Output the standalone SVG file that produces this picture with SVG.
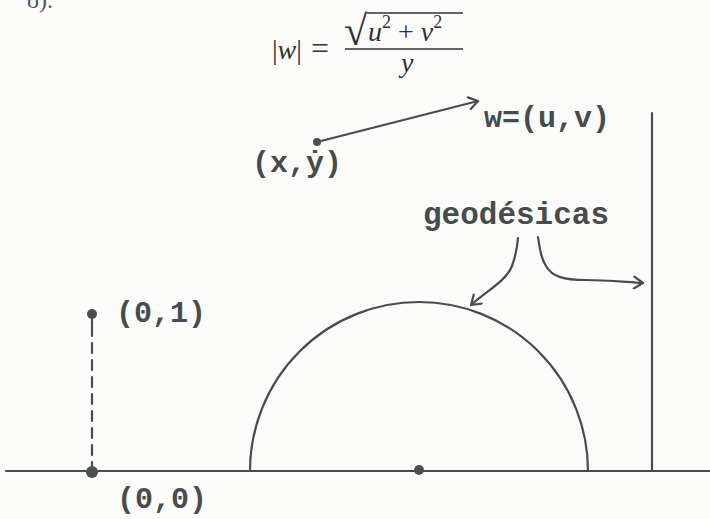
<svg xmlns="http://www.w3.org/2000/svg" width="710" height="519" viewBox="0 0 710 519">
  <defs>
    <style>
      .tw { font-family: "Liberation Mono", "DejaVu Sans Mono", monospace; font-size: 30px; font-weight: bold; fill: #464b4b; }
      .math { font-family: "Liberation Serif", "DejaVu Serif", serif; font-size: 28px; fill: #2e3232; }
      .ln { stroke: #474c4c; stroke-width: 2.2; fill: none; stroke-linecap: round; }
      .dot { fill: #4a4f4f; }
    </style>
    <marker id="chev" viewBox="0 0 14 14" refX="12" refY="7" markerWidth="14" markerHeight="14" markerUnits="userSpaceOnUse" orient="auto">
      <path d="M3,1 L12,7 L3,13" fill="none" stroke="#474c4c" stroke-width="2.2" stroke-linecap="round" stroke-linejoin="round"/>
    </marker>
  </defs>
  <rect width="710" height="519" fill="#fbfbfa"/>

  <g id="page-fragment">
    <text x="27" y="8" style="font-family:'Liberation Serif',serif;font-size:24px;fill:#555">o).</text>
  </g>

  <g id="formula">
    <text class="math" x="272" y="59">|<tspan font-style="italic">w</tspan>|</text>
    <text class="math" x="311" y="59" style="font-size:32px">=</text>
    <text class="math" x="344" y="45" style="font-size:42px">√</text>
    <line x1="367" y1="13" x2="463" y2="13" stroke="#2e3232" stroke-width="1.4"/>
    <text class="math" x="368" y="41"><tspan font-style="italic">u</tspan><tspan font-size="18" dy="-13">2</tspan><tspan dy="13" dx="7">+</tspan><tspan font-style="italic" dx="7">v</tspan><tspan font-size="18" dy="-13">2</tspan></text>
    <line x1="345" y1="49" x2="463" y2="49" stroke="#2e3232" stroke-width="1.4"/>
    <text class="math" x="401" y="72" font-style="italic">y</text>
  </g>

  <g id="connectors">
    <line class="ln" x1="6" y1="471" x2="710" y2="471"/>
    <line class="ln" x1="652" y1="113" x2="652" y2="471"/>
    <path class="ln" d="M250,471 A169,169 0 0 1 588,471"/>
    <line class="ln" x1="92" y1="326" x2="92" y2="468" stroke-dasharray="10 7"/>
    <line class="ln" x1="92" y1="314" x2="92" y2="325"/>
    <line class="ln" x1="317" y1="142" x2="478" y2="101" marker-end="url(#chev)"/>
    <path class="ln" d="M518,238 C517,250 515,258 512,266 C506,281 488,290 471,305" marker-end="url(#chev)"/>
    <path class="ln" d="M538,237 C540,250 541,258 546,266 C552,277 565,280 585,280 C605,280 625,282 643,283" marker-end="url(#chev)"/>
  </g>

  <g id="point-xy">
    <circle class="dot" cx="317" cy="142" r="4"/>
    <text class="tw" x="252" y="172">(x,ẏ)</text>
  </g>
  <g id="label-w">
    <text class="tw" x="484" y="127">w=(u,v)</text>
  </g>
  <g id="label-geodesicas">
    <text class="tw" x="423" y="224" style="font-size:31px">geodésicas</text>
  </g>
  <g id="point-01">
    <circle class="dot" cx="92" cy="314" r="5"/>
    <text class="tw" x="116" y="322">(0,1)</text>
  </g>
  <g id="point-00">
    <circle class="dot" cx="92" cy="472" r="6"/>
    <text class="tw" x="117" y="508">(0,0)</text>
  </g>
  <g id="point-center">
    <circle class="dot" cx="419" cy="470" r="5"/>
  </g>
</svg>
